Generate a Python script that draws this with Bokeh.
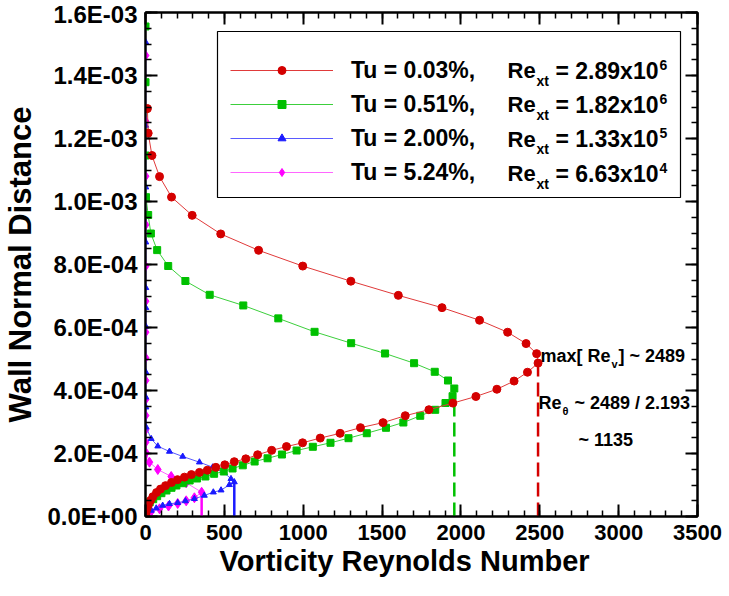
import numpy as np
from bokeh.plotting import figure
from bokeh.models import (Range1d, LinearAxis, SingleIntervalTicker, CustomJSTickFormatter,
                          Legend, LegendItem, Label, BoxAnnotation, Title)
from bokeh.embed import file_html
from bokeh.resources import INLINE

FONT = "Liberation Sans"

# Vorticity Reynolds number profiles across the boundary layer
# (wall-normal distance given in units of 1e-3)
red_x = [0, 3, 9, 19, 32, 47, 70, 95, 127, 165, 203, 247, 291, 342, 392, 446, 503, 563,
         636, 711, 800, 894, 996, 1108, 1234, 1363, 1506, 1647, 1797, 1949, 2095, 2228,
         2337, 2422, 2489, 2480, 2413, 2296, 2118, 1880, 1603, 1302, 997, 717, 477, 296,
         165, 89, 41, 17, 12]
red_y = [0, 0.011, 0.024, 0.038, 0.051, 0.063, 0.076, 0.087, 0.098, 0.108, 0.117, 0.125,
         0.133, 0.140, 0.147, 0.156, 0.164, 0.174, 0.183, 0.196, 0.210, 0.222, 0.234,
         0.249, 0.264, 0.282, 0.298, 0.320, 0.339, 0.360, 0.381, 0.404, 0.430, 0.458,
         0.487, 0.517, 0.549, 0.585, 0.623, 0.663, 0.702, 0.747, 0.795, 0.845, 0.897,
         0.956, 1.014, 1.079, 1.146, 1.217, 1.295]

green_x = [0, 0, 3, 13, 27, 49, 74, 101, 133, 165, 196, 239, 280, 327, 380, 435, 496, 552,
           617, 692, 774, 865, 958, 1061, 1173, 1287, 1403, 1525, 1635, 1742, 1837, 1902,
           1947, 1958, 1918, 1834, 1703, 1519, 1304, 1072, 842, 620, 407, 253, 144, 74,
           34, 17, 3, 0, 0, 0, 0, 0]
green_y = [0, 0.0095, 0.0244, 0.0349, 0.0454, 0.0549, 0.0644, 0.0740, 0.0825, 0.0911,
           0.0984, 0.1057, 0.1143, 0.1206, 0.1270, 0.1356, 0.1429, 0.1524, 0.1625, 0.1746,
           0.1848, 0.1968, 0.2095, 0.2213, 0.2340, 0.2486, 0.2644, 0.2816, 0.2984, 0.3197,
           0.3387, 0.3603, 0.3819, 0.4063, 0.4317, 0.4594, 0.4867, 0.5175, 0.5502, 0.5863,
           0.629, 0.670, 0.7038, 0.7476, 0.7952, 0.8457, 0.8984, 0.9571, 1.0137, 1.1460,
           1.2181, 1.2943, 1.3787, 1.5556]

blue_x = [0, 4, 36, 68, 109, 152, 204, 253, 310, 373, 430, 479, 532, 563, 542, 500, 426,
          342, 236, 152, 78, 36, 4, 2.5, 2, 2, 2, 2, 2, 1.5, 1.5, 1.5, 1, 1]
blue_y = [0, 0.0117, 0.0190, 0.0263, 0.0349, 0.0403, 0.0435, 0.0492, 0.0562, 0.0667,
          0.0771, 0.0835, 0.1006, 0.1095, 0.1197, 0.1387, 0.1565, 0.1724, 0.1905, 0.2063,
          0.2232, 0.2467, 0.2835, 0.3470, 0.3787, 0.4581, 0.6032, 0.6625, 0.7260, 0.8708,
          0.9556, 1.0454, 1.2413, 1.5057]

mag_x = [0, 4, 36, 89, 146, 204, 258, 310, 356, 258, 163, 78, 25, 3, 1, 0.5, 0.5, 0.5,
         0.5, 0.5, 0.5, 0.5, 0.5, 0.5, 0.5, 0.5, 0.5]
mag_y = [0, 0.0048, 0.0159, 0.0244, 0.0333, 0.0413, 0.0498, 0.0594, 0.0770, 0.1070,
         0.1270, 0.1492, 0.1724, 0.2022, 0.2359, 0.2752, 0.3206, 0.3714, 0.4317, 0.5038,
         0.5851, 0.6835, 0.7946, 0.9260, 1.0803, 1.2549, 1.4635]

tu_labels = ["Tu = 0.03%,", "Tu = 0.51%,", "Tu = 2.00%,", "Tu = 5.24%,"]
rext_mantissa = ["2.89", "1.82", "1.33", "6.63"]
rext_exponent = ["6", "6", "5", "4"]

re_max = 2489
shape_factor = 2.193
re_theta = 1135

W, H = 729, 596
BL, BR, BT, BB = 144, 32, 12, 80      # borders around the frame
FB = H - BB                            # frame bottom in canvas pixels

p = figure(width=W, height=H, output_backend="svg", toolbar_location=None,
           x_range=Range1d(0, 3500), y_range=Range1d(0, 1.6e-3),
           min_border_left=BL, min_border_right=BR, min_border_top=BT, min_border_bottom=BB,
           y_axis_label="Wall Normal Distance")
p.grid.visible = False
p.outline_line_color = "black"
p.outline_line_width = 2
p.background_fill_color = "white"
p.border_fill_color = "white"

xt = SingleIntervalTicker(interval=500, num_minor_ticks=5)
yt = SingleIntervalTicker(interval=2e-4, num_minor_ticks=4)

sci = CustomJSTickFormatter(code="""
if (Math.abs(tick) < 1e-12) { return "0.0E+00"; }
const parts = tick.toExponential(1).split("e");
const ex = parseInt(parts[1]);
return parts[0] + "E" + (ex < 0 ? "-" : "+") + String(Math.abs(ex)).padStart(2, "0");
""")
blank = CustomJSTickFormatter(code="return '';")


def style_axis(ax, labels=True):
    ax.axis_line_width = 2
    ax.axis_line_color = "black"
    ax.major_tick_in = 12
    ax.major_tick_out = 0
    ax.minor_tick_in = 6
    ax.minor_tick_out = 0
    ax.major_tick_line_width = 2
    ax.minor_tick_line_width = 1.5
    ax.major_tick_line_color = "black"
    ax.minor_tick_line_color = "black"
    if labels:
        ax.major_label_text_font = FONT
        ax.major_label_text_font_style = "bold"
        ax.major_label_text_color = "black"
        ax.axis_label_text_font = FONT
        ax.axis_label_text_font_style = "bold"
        ax.axis_label_text_color = "black"
    else:
        ax.formatter = blank
        ax.major_label_text_font_size = "8px"
        ax.major_label_standoff = 0
        ax.axis_label = None


xa = p.xaxis[0]
ya = p.yaxis[0]
xa.ticker = xt
ya.ticker = yt
ya.formatter = sci
style_axis(xa)
style_axis(ya)
xa.major_label_text_font_size = "22px"
ya.major_label_text_font_size = "24px"
ya.axis_label_text_font_size = "31px"
xa.major_label_standoff = 8
ya.major_label_standoff = 8
ya.axis_label_standoff = 6

# x-axis title, set slightly left of the frame centre
p.add_layout(Title(text="Vorticity Reynolds Number", align="left", offset=74,
                   text_font=FONT, text_font_style="bold", text_font_size="29px",
                   text_color="black", standoff=0), "below")

top_ax = LinearAxis(ticker=xt)
right_ax = LinearAxis(ticker=yt)
style_axis(top_ax, labels=False)
style_axis(right_ax, labels=False)
p.add_layout(top_ax, "above")
p.add_layout(right_ax, "right")

series = [
    (red_x, red_y, "#e03a3a", "#d40000", "circle", 8, "dashed"),
    (green_x, green_y, "#3ccf3c", "#00c000", "square", 7, "dashed"),
    (blue_x, blue_y, "#5a5aff", "#1a1aff", "triangle", 6, "solid"),
    (mag_x, mag_y, "#ff66ff", "#ff00ff", "diamond", 10, "solid"),
]

renderers = []
for xs, ys_e3, lc, mc, marker, size, peak_style in reversed(series):
    xs = np.asarray(xs, dtype=float)
    ys = np.asarray(ys_e3, dtype=float) * 1e-3
    i = int(np.argmax(xs))
    dash = "14 6" if peak_style == "dashed" else "solid"
    p.line([xs[i], xs[i]], [0, ys[i]], line_color=mc, line_width=2.5, line_dash=dash)
    ln = p.line(xs, ys, line_color=lc, line_width=1)
    sc = p.scatter(xs, ys, marker=marker, size=size, fill_color=mc, line_color=mc)
    renderers.append((ln, sc))
renderers = renderers[::-1]

# legend frame
p.add_layout(BoxAnnotation(left=216 - BL, right=679 - BL, top=FB - 31, bottom=FB - 197,
                           left_units="screen", right_units="screen",
                           top_units="screen", bottom_units="screen",
                           fill_color="white", fill_alpha=1.0,
                           line_color="black", line_width=1.2, line_alpha=1.0))

legend = Legend(items=[LegendItem(label=t, renderers=list(r)) for t, r in zip(tu_labels, renderers)],
                location=(229 - BL, FB - 186), orientation="vertical",
                glyph_width=103, glyph_height=20, label_height=28, spacing=6, padding=0,
                margin=0, label_standoff=18,
                border_line_alpha=0, background_fill_alpha=0,
                label_text_font=FONT, label_text_font_style="bold",
                label_text_font_size="23px", label_text_color="black")
p.add_layout(legend)


def text_at(txt, cx, cy, size, align="left"):
    """Place bold text vertically centred on canvas pixel (cx, cy)."""
    p.add_layout(Label(x=cx - BL, y=FB - cy, x_units="screen", y_units="screen",
                       text=txt, text_font=FONT, text_font_style="bold",
                       text_font_size=f"{size}px", text_color="black",
                       text_align=align, text_baseline="middle"))


row_text_centers = [70, 104.3, 138.6, 173]
for yc, mant, ex in zip(row_text_centers, rext_mantissa, rext_exponent):
    text_at("Re", 506, yc, 22)
    text_at("xt", 535, yc + 10, 14)
    text_at(f"= {mant}x10", 554, yc, 23)
    text_at(ex, 658, yc - 6, 14)

text_at("max[ Re", 539, 355, 18)
text_at("v", 610, 363, 11)
text_at(f"] ~ {re_max}", 617, 355, 18)
text_at("Re", 537, 402, 18)
text_at("\u03b8", 561, 410, 11)
text_at(f"~ {re_max} / {shape_factor}", 573, 402, 18)
text_at(f"~ {re_theta}", 577, 439, 18)

open("out.html", "w").write(file_html(p, INLINE))
